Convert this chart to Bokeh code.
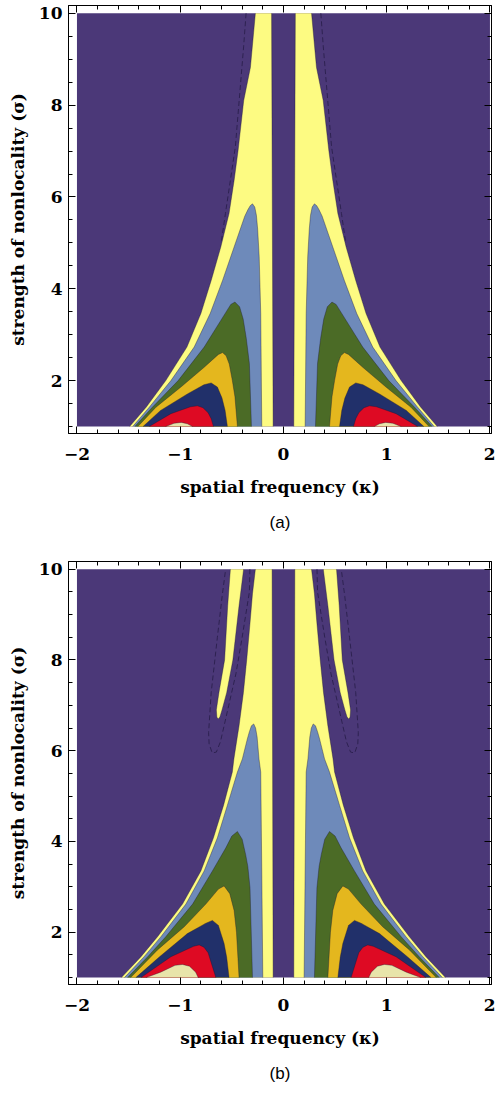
from bokeh.plotting import figure
from bokeh.models import FixedTicker, LinearAxis, Title, Range1d, CustomLabelingPolicy
from bokeh.layouts import column
from bokeh.embed import file_html
from bokeh.resources import INLINE

# ---------------- data ----------------
KAPPA_LIM = (-2.0, 2.0)
SIGMA_LIM = (1.0, 10.0)
X_TICKS = [-2, -1, 0, 1, 2]
X_TICK_LABELS = ["−2", "−1", "0", "1", "2"]
Y_TICKS = [2, 4, 6, 8, 10]
Y_TICK_LABELS = ["2", "4", "6", "8", "10"]
X_LABEL = "spatial frequency (κ)"
Y_LABEL = "strength of nonlocality (σ)"
CAPTIONS = ["(a)", "(b)"]

# contour fill colours, lowest level first
LEVEL_COLORS = ["#4b3878", "#fdfb82", "#6e8aba", "#4b6b26",
                "#e4b71e", "#21306a", "#de0a23", "#e8e4aa"]

# Panel (a): right-half (kappa > 0) region boundaries, (kappa, sigma)
A_YELLOW = [(0.10, 1.0), (0.115, 10.0), (0.272, 10.0), (0.32, 8.82), (0.385, 8.10),
            (0.44, 7.0), (0.478, 6.36), (0.527, 5.64), (0.607, 4.91), (0.70, 4.18),
            (0.80, 3.46), (0.935, 2.73), (1.14, 2.0), (1.33, 1.42), (1.49, 1.0)]
A_BLUE = [(0.21, 1.0), (0.22, 3.46), (0.235, 4.70), (0.25, 5.30), (0.262, 5.60),
          (0.278, 5.78), (0.30, 5.85), (0.322, 5.81), (0.345, 5.72), (0.375, 5.58),
          (0.478, 4.91), (0.59, 4.18), (0.71, 3.46), (0.865, 2.73), (1.09, 2.0),
          (1.30, 1.42), (1.46, 1.0)]
A_GREEN = [(0.31, 1.0), (0.33, 2.37), (0.36, 2.92), (0.39, 3.34), (0.425, 3.61),
           (0.47, 3.71), (0.51, 3.66), (0.56, 3.48), (0.607, 3.31), (0.768, 2.73),
           (1.02, 2.0), (1.27, 1.42), (1.44, 1.0)]
A_GOLD = [(0.446, 1.0), (0.47, 1.65), (0.495, 2.0), (0.525, 2.36), (0.555, 2.54),
          (0.59, 2.61), (0.63, 2.57), (0.768, 2.29), (0.993, 1.86), (1.235, 1.42),
          (1.41, 1.0)]
A_NAVY = [(0.543, 1.0), (0.565, 1.35), (0.595, 1.62), (0.64, 1.86), (0.70, 1.95),
          (0.77, 1.91), (0.93, 1.71), (1.19, 1.35), (1.36, 1.0)]
A_RED = [(0.678, 1.0), (0.70, 1.17), (0.73, 1.30), (0.78, 1.41), (0.833, 1.45),
         (0.90, 1.43), (1.09, 1.28), (1.30, 1.0)]
A_CREAM = [(0.88, 1.0), (0.93, 1.06), (0.99, 1.09), (1.06, 1.07), (1.14, 1.0)]
A_DASHED = [(0.362, 10.0), (0.386, 9.27), (0.466, 7.09), (0.562, 5.64), (0.60, 5.05)]

# Panel (b): right-half region boundaries, (kappa, sigma)
B_YELLOW = [(0.10, 1.0), (0.11, 10.0), (0.272, 10.0), (0.30, 9.46), (0.327, 8.73),
            (0.356, 8.0), (0.388, 7.28), (0.43, 6.55), (0.45, 6.26), (0.48, 5.82),
            (0.495, 5.53), (0.58, 4.80), (0.678, 4.08), (0.80, 3.35), (0.978, 2.62),
            (1.22, 1.90), (1.38, 1.46), (1.57, 1.0)]
B_FINGER = [(0.386, 10.0), (0.43, 9.2), (0.49, 8.0), (0.55, 7.28), (0.595, 6.9),
            (0.615, 6.75), (0.63, 6.70), (0.645, 6.74), (0.65, 6.9), (0.625, 7.28),
            (0.57, 8.0), (0.54, 9.2), (0.514, 10.0)]
B_BLUE = [(0.20, 1.0), (0.21, 3.35), (0.22, 5.53), (0.237, 5.82), (0.255, 6.30),
          (0.27, 6.50), (0.288, 6.59), (0.31, 6.55), (0.33, 6.42), (0.35, 6.26),
          (0.398, 5.82), (0.446, 5.53), (0.543, 4.80), (0.64, 4.08), (0.768, 3.35),
          (0.945, 2.62), (1.187, 1.90), (1.35, 1.46), (1.54, 1.0)]
B_GREEN = [(0.30, 1.0), (0.324, 2.98), (0.345, 3.45), (0.366, 3.71), (0.40, 4.05),
           (0.446, 4.22), (0.50, 4.12), (0.558, 3.86), (0.688, 3.35), (0.88, 2.62),
           (1.14, 1.90), (1.315, 1.46), (1.51, 1.0)]
B_GOLD = [(0.43, 1.0), (0.455, 2.0), (0.478, 2.48), (0.52, 2.85), (0.575, 3.02),
          (0.63, 2.95), (0.752, 2.62), (0.961, 2.12), (1.22, 1.61), (1.48, 1.0)]
B_NAVY = [(0.527, 1.0), (0.55, 1.45), (0.575, 1.75), (0.63, 2.15), (0.688, 2.26),
          (0.75, 2.20), (0.93, 1.97), (1.20, 1.46), (1.43, 1.0)]
B_RED = [(0.655, 1.0), (0.678, 1.17), (0.73, 1.55), (0.77, 1.67), (0.816, 1.72),
         (0.87, 1.69), (1.09, 1.46), (1.38, 1.0)]
B_CREAM = [(0.826, 1.0), (0.85, 1.12), (0.91, 1.25), (0.978, 1.29), (1.05, 1.27),
           (1.19, 1.12), (1.33, 1.0)]
B_DASHED = [(0.325, 10.0), (0.33, 9.5), (0.40, 8.5), (0.46, 7.7), (0.53, 7.0),
            (0.575, 6.55), (0.61, 6.2), (0.65, 5.97), (0.69, 5.95), (0.72, 6.15),
            (0.725, 6.4), (0.70, 7.28), (0.64, 8.5), (0.594, 9.4), (0.56, 10.0)]

PANEL_A = [(1, A_YELLOW), (2, A_BLUE), (3, A_GREEN), (4, A_GOLD),
           (5, A_NAVY), (6, A_RED), (7, A_CREAM)]
PANEL_B = [(1, B_YELLOW), (1, B_FINGER), (2, B_BLUE), (3, B_GREEN), (4, B_GOLD),
           (5, B_NAVY), (6, B_RED), (7, B_CREAM)]

# ---------------- helpers ----------------
FONT_SERIF = "DejaVu Serif"
HIDE_LABELS = CustomLabelingPolicy(code="""
    for (const i of Array.from(indices)) { indices.unset(i) }
    return indices
""")


def mirror(pts):
    return [(-k, s) for k, s in pts]


def edge_segments(pts):
    """Polygon outline without the parts lying on sigma=1 / sigma=10 edges."""
    closed = list(pts) + [pts[0]]
    segs, cur = [], []
    for a, b in zip(closed[:-1], closed[1:]):
        on_edge = ((a[1] <= SIGMA_LIM[0] and b[1] <= SIGMA_LIM[0]) or
                   (a[1] >= SIGMA_LIM[1] and b[1] >= SIGMA_LIM[1]))
        if on_edge:
            if len(cur) > 1:
                segs.append(cur)
            cur = []
        else:
            if not cur:
                cur = [a]
            cur.append(b)
    if len(cur) > 1:
        segs.append(cur)
    return segs


def style_axis(ax, show_labels):
    ax.axis_line_color = "black"
    ax.axis_line_width = 1
    ax.major_tick_in = 7
    ax.major_tick_out = 0
    ax.minor_tick_in = 4
    ax.minor_tick_out = 0
    ax.major_tick_line_color = "black"
    ax.minor_tick_line_color = "black"
    if show_labels:
        ax.major_label_text_font = FONT_SERIF
        ax.major_label_text_font_style = "bold"
        ax.major_label_text_font_size = "17px"
        ax.major_label_text_color = "black"
        ax.axis_label_text_font = FONT_SERIF
        ax.axis_label_text_font_style = "bold"
        ax.axis_label_text_font_size = "17px"
        ax.axis_label_text_color = "black"
    else:
        ax.major_label_text_font_size = "1px"
        ax.major_label_standoff = 0
        ax.major_label_policy = HIDE_LABELS
        ax.axis_label = None


def make_panel(levels, dashed, caption, height, bottom_border):
    p = figure(width=495, height=height,
               x_range=Range1d(-2.082, 2.015), y_range=Range1d(0.848, 10.17),
               output_backend="svg", toolbar_location=None,
               min_border_left=68, min_border_right=3,
               min_border_top=5, min_border_bottom=bottom_border)
    p.xgrid.visible = False
    p.ygrid.visible = False
    p.background_fill_color = "white"
    p.border_fill_color = "white"
    p.outline_line_color = "black"
    p.outline_line_width = 1

    # lowest level: whole data rectangle
    p.quad(left=KAPPA_LIM[0], right=KAPPA_LIM[1], bottom=SIGMA_LIM[0], top=SIGMA_LIM[1],
           fill_color=LEVEL_COLORS[0], line_alpha=0)

    for lvl, pts in levels:
        polys = [pts, mirror(pts)]
        p.patches(xs=[[q[0] for q in poly] for poly in polys],
                  ys=[[q[1] for q in poly] for poly in polys],
                  fill_color=LEVEL_COLORS[lvl], line_alpha=0)
        segs = edge_segments(pts) + edge_segments(mirror(pts))
        p.multi_line(xs=[[q[0] for q in s] for s in segs],
                     ys=[[q[1] for q in s] for s in segs],
                     line_color="#1a1530", line_alpha=0.45, line_width=0.8)

    dl = [dashed, mirror(dashed)]
    p.multi_line(xs=[[q[0] for q in s] for s in dl], ys=[[q[1] for q in s] for s in dl],
                 line_color="#2a1f4c", line_alpha=0.9, line_width=1, line_dash="5 3")

    xt = FixedTicker(ticks=X_TICKS, minor_ticks=[round(-2 + 0.2 * i, 1) for i in range(21)])
    yt = FixedTicker(ticks=Y_TICKS, minor_ticks=[1 + 0.5 * i for i in range(19)])

    xa = p.xaxis[0]
    xa.ticker = xt
    xa.major_label_overrides = dict(zip(X_TICKS, X_TICK_LABELS))
    xa.axis_label = X_LABEL
    style_axis(xa, True)
    xa.major_label_standoff = 14
    xa.axis_label_standoff = 14

    ya = p.yaxis[0]
    ya.ticker = yt
    ya.major_label_overrides = dict(zip(Y_TICKS, Y_TICK_LABELS))
    ya.axis_label = Y_LABEL
    style_axis(ya, True)
    ya.major_label_standoff = 6
    ya.axis_label_standoff = 8

    top = LinearAxis(ticker=xt)
    style_axis(top, False)
    p.add_layout(top, "above")
    right = LinearAxis(ticker=yt)
    style_axis(right, False)
    p.add_layout(right, "right")

    p.add_layout(Title(text=caption, align="center", text_font="Liberation Sans",
                       text_font_size="17px", text_font_style="normal",
                       text_color="black", standoff=23), "below")
    return p


pa = make_panel(PANEL_A, A_DASHED, CAPTIONS[0], 556, 123)
pb = make_panel(PANEL_B, B_DASHED, CAPTIONS[1], 538, 105)

layout = column(pa, pb, spacing=0)
open("out.html", "w").write(file_html(layout, INLINE))
